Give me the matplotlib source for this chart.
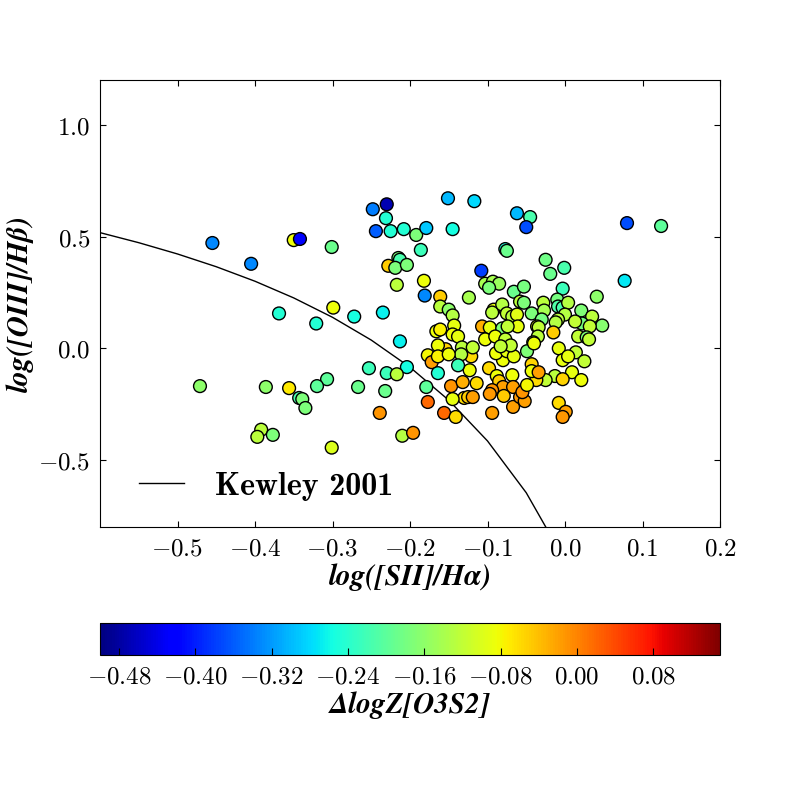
import numpy as np
import matplotlib
matplotlib.use('Agg')
import matplotlib.pyplot as plt
from matplotlib.ticker import FuncFormatter

plt.rcParams['mathtext.fontset'] = 'cm'

# log([SII]/Ha), log([OIII]/Hb), delta logZ[O3S2]
sii = [-0.455, -0.405, -0.350, -0.342, -0.369, -0.471, -0.386, -0.356, -0.343, -0.339,
       -0.335, -0.392, -0.397, -0.377, -0.230, -0.248, -0.231, -0.244, -0.225, -0.208,
       -0.301, -0.228, -0.215, -0.213, -0.219, -0.204, -0.217, -0.299, -0.321, -0.272,
       -0.235, -0.213, -0.204, -0.253, -0.230, -0.217, -0.267, -0.232, -0.307, -0.320,
       -0.239, -0.210, -0.196, -0.301, -0.192, -0.179, -0.151, -0.117, -0.145, -0.186,
       -0.182, -0.181, -0.161, -0.161, -0.150, -0.145, -0.143, -0.124, -0.108, -0.062,
       -0.045, -0.050, -0.077, -0.075, -0.025, -0.001, -0.019, -0.003, 0.041, 0.080,
       0.124, 0.077, -0.103, -0.093, -0.085, -0.098, -0.066, -0.053, -0.058, -0.053,
       -0.043, -0.028, -0.027, -0.030, -0.010, -0.009, -0.003, 0.004, 0.000, -0.009,
       0.021, 0.035, 0.022, 0.048, 0.013, -0.092, -0.094, -0.081, -0.075, -0.068,
       -0.062, -0.061, -0.036, -0.012, -0.015, 0.032, 0.017, 0.028, 0.031, -0.008,
       0.014, -0.003, 0.004, 0.025, 0.009, -0.013, -0.003, 0.021, -0.025, -0.037,
       -0.008, 0.001, -0.003, -0.107, -0.097, -0.081, -0.166, -0.161, -0.145, -0.138,
       -0.103, -0.090, -0.077, -0.074, -0.034, -0.035, -0.041, -0.049, -0.080, -0.089,
       -0.075, -0.066, -0.070, -0.083, -0.121, -0.123, -0.133, -0.134, -0.138, -0.154,
       -0.164, -0.177, -0.172, -0.164, -0.150, -0.119, -0.164, -0.147, -0.132, -0.114,
       -0.130, -0.125, -0.119, -0.145, -0.177, -0.156, -0.141, -0.179, -0.098, -0.088,
       -0.085, -0.068, -0.080, -0.067, -0.094, -0.097, -0.079, -0.067, -0.058, -0.052,
       -0.055, -0.094, -0.049, -0.043, -0.043, -0.034, -0.040]

oiii = [0.471, 0.378, 0.484, 0.489, 0.156, -0.169, -0.173, -0.178, -0.222, -0.227,
        -0.267, -0.364, -0.396, -0.387, 0.644, 0.622, 0.582, 0.524, 0.524, 0.533,
        0.453, 0.369, 0.404, 0.396, 0.360, 0.373, 0.284, 0.182, 0.111, 0.142,
        0.160, 0.031, -0.084, -0.089, -0.111, -0.116, -0.173, -0.191, -0.138, -0.169,
        -0.289, -0.391, -0.378, -0.444, 0.507, 0.538, 0.671, 0.658, 0.533, 0.440,
        0.302, 0.236, 0.231, 0.187, 0.173, 0.147, 0.102, 0.227, 0.347, 0.604,
        0.587, 0.542, 0.444, 0.436, 0.396, 0.360, 0.333, 0.267, 0.231, 0.560,
        0.547, 0.302, 0.289, 0.298, 0.289, 0.271, 0.253, 0.276, 0.209, 0.204,
        0.156, 0.204, 0.169, 0.129, 0.218, 0.187, 0.182, 0.204, 0.151, 0.129,
        0.169, 0.142, 0.111, 0.102, 0.120, 0.173, 0.160, 0.196, 0.156, 0.142,
        0.151, 0.098, 0.098, 0.116, 0.071, 0.098, 0.053, 0.049, 0.040, 0.000,
        -0.018, -0.053, -0.036, -0.058, -0.107, -0.124, -0.138, -0.142, -0.142, -0.142,
        -0.244, -0.284, -0.307, 0.098, 0.093, 0.089, 0.076, 0.084, 0.062, 0.053,
        0.040, 0.053, 0.040, 0.098, 0.094, 0.053, 0.027, -0.013, -0.053, -0.022,
        -0.013, -0.036, 0.013, 0.009, -0.036, -0.098, 0.004, -0.027, -0.076, -0.004,
        0.013, -0.031, -0.062, -0.036, -0.027, 0.004, -0.111, -0.169, -0.151, -0.156,
        -0.222, -0.218, -0.218, -0.227, -0.240, -0.289, -0.307, -0.173, -0.089, -0.124,
        -0.147, -0.120, -0.173, -0.173, -0.187, -0.204, -0.213, -0.262, -0.218, -0.236,
        -0.196, -0.289, -0.164, -0.071, -0.102, -0.107, 0.022]

dlogz = [-0.33, -0.33, -0.085, -0.42, -0.245, -0.16, -0.16, -0.07, -0.215, -0.175,
         -0.175, -0.125, -0.125, -0.175, -0.47, -0.34, -0.245, -0.36, -0.245, -0.245,
         -0.19, -0.05, -0.175, -0.215, -0.175, -0.175, -0.125, -0.085, -0.245, -0.255,
         -0.265, -0.265, -0.255, -0.225, -0.225, -0.125, -0.19, -0.19, -0.2, -0.2,
         -0.01, -0.13, -0.01, -0.1, -0.175, -0.29, -0.30, -0.28, -0.255, -0.225,
         -0.085, -0.33, -0.05, -0.125, -0.16, -0.13, -0.09, -0.14, -0.38, -0.30,
         -0.215, -0.37, -0.25, -0.19, -0.185, -0.215, -0.19, -0.225, -0.16, -0.37,
         -0.2, -0.27, -0.14, -0.14, -0.15, -0.175, -0.19, -0.18, -0.125, -0.175,
         -0.175, -0.125, -0.14, -0.18, -0.18, -0.21, -0.215, -0.13, -0.13, -0.125,
         -0.17, -0.125, -0.18, -0.165, -0.12, -0.09, -0.125, -0.13, -0.12, -0.125,
         -0.095, -0.09, -0.09, -0.13, -0.05, -0.12, -0.12, -0.17, -0.12, -0.09,
         -0.12, -0.09, -0.09, -0.12, -0.09, -0.125, -0.055, -0.085, -0.12, -0.06,
         -0.06, -0.02, -0.015, -0.03, -0.09, -0.175, -0.085, -0.075, -0.085, -0.09,
         -0.085, -0.085, -0.12, -0.12, -0.12, -0.125, -0.13, -0.17, -0.085, -0.085,
         -0.09, -0.09, -0.12, -0.12, -0.06, -0.085, -0.125, -0.13, -0.225, -0.055,
         -0.085, -0.08, -0.02, -0.075, -0.085, -0.12, -0.245, -0.01, -0.03, -0.06,
         -0.06, -0.05, -0.02, -0.09, 0.02, 0.02, -0.06, -0.2, -0.06, -0.085,
         -0.05, -0.085, -0.02, -0.02, -0.01, -0.015, -0.05, -0.02, -0.015, -0.02,
         -0.01, -0.02, -0.08, -0.055, -0.085, -0.02, -0.085]

zmin, zmax = -0.50, 0.15
xticks = [-0.5, -0.4, -0.3, -0.2, -0.1, 0.0, 0.1, 0.2]
yticks = [-0.5, 0.0, 0.5, 1.0]
cbar_ticks = [-0.48, -0.40, -0.32, -0.24, -0.16, -0.08, 0.00, 0.08]

# Kewley et al. 2001 maximum starburst line for [SII]
kew_a, kew_b, kew_c = 0.72, 0.32, 1.30
kx = np.arange(-0.6, 0.001, 0.05)
ky = kew_a / (kx - kew_b) + kew_c

fig = plt.figure(figsize=(8, 8), dpi=100)
ax = fig.add_axes([0.125, 0.341, 0.775, 0.559])
cax = fig.add_axes([0.125, 0.181, 0.775, 0.04])

ax.plot(kx, ky, color='k', lw=1, label='Kewley 2001')
sc = ax.scatter(sii, oiii, c=dlogz, cmap='jet', vmin=zmin, vmax=zmax,
                s=85, edgecolors='k', linewidths=1, zorder=3)

ax.set_xlim(-0.6, 0.2)
ax.set_ylim(-0.8, 1.2)
ax.set_xticks(xticks)
ax.set_yticks(yticks)
ax.xaxis.set_major_formatter(FuncFormatter(lambda v, p: r'$%.1f$' % v))
ax.yaxis.set_major_formatter(FuncFormatter(lambda v, p: r'$%.1f$' % v))
ax.tick_params(direction='in', top=True, right=True, labelsize=18, length=4.5, pad=7)

lab_font = dict(family='STIXGeneral', style='italic', weight='bold', size=21)
ax.set_xlabel('log([SII]/H\u03b1)', fontdict=lab_font, labelpad=2)
ax.set_ylabel('log([OIII]/H\u03b2)', fontdict=lab_font)
ax.yaxis.set_label_coords(-0.106, 0.5)
ax.legend(loc='center left', bbox_to_anchor=(0.042, 0.092), borderaxespad=0,
          frameon=False, prop=dict(family='cmb10', size=23),
          handlelength=1.4, handletextpad=1.0)

cb = fig.colorbar(sc, cax=cax, orientation='horizontal', ticks=cbar_ticks)
cb.ax.xaxis.set_major_formatter(FuncFormatter(lambda v, p: r'$%.2f$' % v))
cb.ax.tick_params(direction='in', labelsize=18, length=5, pad=7)
cb.set_label('\u0394logZ[O3S2]', fontdict=lab_font, labelpad=2)

fig.savefig('out.png', dpi=100)
